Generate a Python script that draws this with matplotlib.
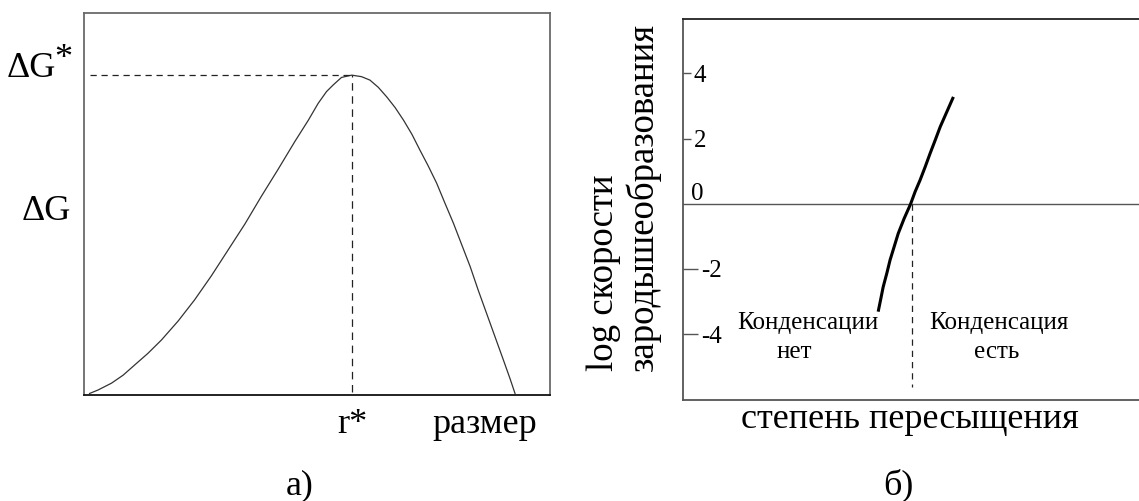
#Librerias
import matplotlib
matplotlib.use('Agg')
import matplotlib.pyplot as plt

plt.rcParams['font.family'] = ['Liberation Serif', 'DejaVu Serif']

#Datos (unidades arbitrarias)
#a) energia de Gibbs vs tamaño
size_r = [0.13, 0.31, 0.60, 0.85, 1.10, 1.38, 1.67, 2.03, 2.38, 2.74, 3.10,
          3.46, 3.81, 4.17, 4.53, 4.82, 5.03, 5.21, 5.35, 5.53, 5.75, 5.96,
          6.14, 6.32, 6.50, 6.68, 6.86, 7.04, 7.21, 7.39, 7.57, 7.75, 7.93,
          8.11, 8.29, 8.46, 8.64, 8.82, 9.00, 9.14, 9.25]
dG = [0.04, 0.13, 0.31, 0.52, 0.79, 1.09, 1.44, 1.94, 2.49, 3.12, 3.80,
      4.48, 5.20, 5.91, 6.64, 7.20, 7.64, 7.95, 8.12, 8.32, 8.38, 8.34,
      8.25, 8.06, 7.81, 7.53, 7.20, 6.83, 6.42, 6.00, 5.55, 5.02, 4.50,
      3.93, 3.36, 2.75, 2.14, 1.53, 0.92, 0.44, 0.04]
r_star = 5.75
dG_star = 8.38

#б) log скорости vs пересыщение
supersat = [4.28, 4.34, 4.39, 4.47, 4.54, 4.63, 4.72, 4.85, 4.99, 5.09,
            5.20, 5.31, 5.42, 5.53, 5.64, 5.93]
log_rate = [-3.31, -2.90, -2.55, -2.13, -1.73, -1.32, -0.91, -0.45, -0.01, 0.37,
            0.73, 1.13, 1.55, 1.95, 2.36, 3.28]
s_crit = 5.03
ytick_pos = [2, 4]
ytick_neg = [-4, -2]

W, H = 1139, 501
fig = plt.figure(figsize=(W / 100, H / 100), dpi=100)

def px(x, y):
    return x / W, 1 - y / H

#Grafica a)
ax1 = fig.add_axes([83.5 / W, 1 - 395 / H, (550 - 83.5) / W, (395 - 13.3) / H])
ax1.plot(size_r, dG, color='#333333', lw=0.9)
ax1.plot([0.13, r_star], [dG_star, dG_star], color='#222222', lw=0.9, dashes=(5, 3.8))
ax1.plot([r_star, r_star], [0.08, dG_star], color='#222222', lw=0.9, dashes=(6, 4.5))
ax1.set_xlim(0, 10)
ax1.set_ylim(0, 10)
ax1.set_xticks([])
ax1.set_yticks([])
for s in ax1.spines.values():
    s.set_color('#6a6a6a')
    s.set_linewidth(1.3)
ax1.spines['bottom'].set_color('#111111')

#Grafica б)
ax2 = fig.add_axes([683 / W, 1 - 400 / H, (W - 683) / W, (400 - 19) / H])
ax2.axhline(0, color='#555555', lw=1.0)
ax2.plot(supersat, log_rate, color='black', lw=2.2, solid_capstyle='butt')
ax2.plot([s_crit, s_crit], [0, -5.61], color='#222222', lw=0.9, dashes=(5, 4))
ax2.set_xlim(0, 10)
ax2.set_ylim(-6.02, 5.67)
ax2.set_xticks([])
ax2.set_yticks(ytick_pos)
ax2.set_yticklabels([str(v) for v in ytick_pos])
ax2.set_yticks(ytick_neg, minor=True)
ax2.set_yticklabels([str(v) for v in ytick_neg], minor=True)
ax2.tick_params(axis='y', which='major', direction='in', length=6, width=1,
                color='#555555', pad=-7.5, labelsize=18)
ax2.tick_params(axis='y', which='minor', direction='in', length=11, width=1,
                color='#555555', pad=-13, labelsize=18)
for t in ax2.get_yticklabels(which='both'):
    t.set_horizontalalignment('left')
ax2.spines['right'].set_visible(False)
for s in ['left', 'top', 'bottom']:
    ax2.spines[s].set_color('#555555')
    ax2.spines[s].set_linewidth(1.3)
ax2.spines['top'].set_color('#222222')

#Textos
fig.text(*px(56, 77), 'ΔG', fontsize=26, ha='right', va='baseline')
fig.text(*px(54, 68), '*', fontsize=26, ha='left', va='baseline')
fig.text(*px(71, 220), 'ΔG', fontsize=26, ha='right', va='baseline')
fig.text(*px(352, 433), 'r*', fontsize=26, ha='center', va='baseline')
fig.text(*px(484.5, 433), 'размер', fontsize=26, ha='center', va='baseline')
fig.text(*px(300, 494), 'а)', fontsize=26, ha='center', va='baseline')

fig.text(*px(691, 200), '0', fontsize=18, ha='left', va='baseline')
fig.text(*px(808, 329), 'Конденсации', fontsize=18, ha='center', va='baseline')
fig.text(*px(794, 358), 'нет', fontsize=18, ha='center', va='baseline')
fig.text(*px(999, 329), 'Конденсация', fontsize=18, ha='center', va='baseline')
fig.text(*px(997, 358), 'есть', fontsize=18, ha='center', va='baseline')
fig.text(*px(910, 428), 'степень пересыщения', fontsize=26, ha='center', va='baseline')
fig.text(*px(898, 494), 'б)', fontsize=26, ha='center', va='baseline')
fig.text(*px(613, 371), 'log скорости', fontsize=26.5, rotation=90,
         rotation_mode='anchor', ha='left', va='baseline')
fig.text(*px(653, 371), 'зародышеобразования', fontsize=26.5, rotation=90,
         rotation_mode='anchor', ha='left', va='baseline')

fig.savefig('out.png', dpi=100)
